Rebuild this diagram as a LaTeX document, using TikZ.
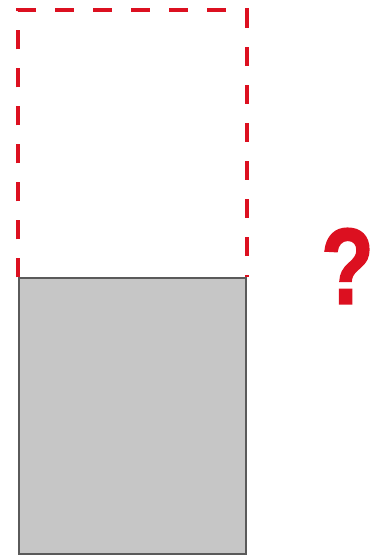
\documentclass[tikz,border=0pt]{standalone}
\usepackage{fontspec}
\setmainfont{Liberation Sans}
\newfontfamily\markfont[BoldFeatures={FakeBold=1.6}]{Liberation Sans}
\usepackage{tikz}
\usetikzlibrary{positioning}
\definecolor{markred}{HTML}{DC1020}
\definecolor{blockgray}{HTML}{C6C6C6}
\definecolor{edgegray}{HTML}{5A5A5A}

\begin{document}
\begin{tikzpicture}[
  x=1pt, y=-1pt,
  ghost/.style={draw=markred, line width=4pt, dash pattern=on 19pt off 19pt},
  block/.style={draw=edgegray, fill=blockgray, line width=1.2pt, minimum width=227pt, minimum height=276pt, inner sep=0pt},
  query/.style={text=markred, font=\markfont\bfseries\fontsize{108}{108}\selectfont, inner sep=0pt, xscale=0.8},
]
\useasboundingbox (0,0) rectangle (377,556);
\node[block] (base) at (132.5,416) {};
\coordinate (topleft) at ([yshift=267pt]base.north west);
\coordinate (topright) at ([yshift=267pt]base.north east);
\draw[ghost] (base.north west) -- (topleft) -- (topright) -- (base.north east);
\node[query] (mark) at (347.5,266) {?};
\end{tikzpicture}
\end{document}
